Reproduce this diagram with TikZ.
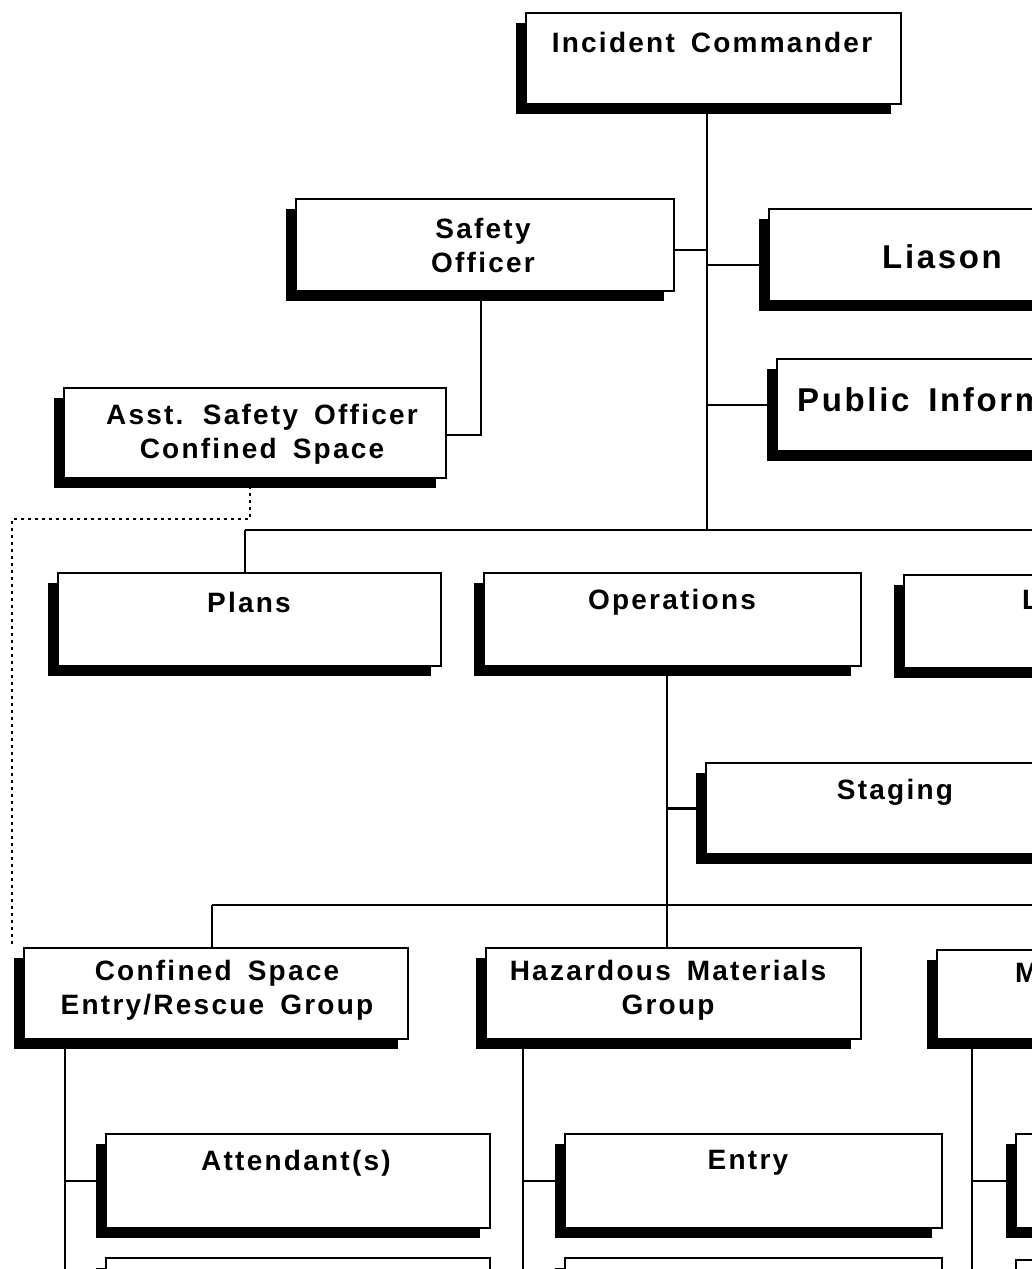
\documentclass[tikz,border=0pt]{standalone}
\usepackage{fontspec}
\setmainfont{Liberation Sans}[LetterSpace=8,WordSpace=1.6]
\usetikzlibrary{shadows,backgrounds}
\newcommand\orgbox[5]{\node[obox, minimum width={#4-#2}, minimum height={#5-#3}] (#1) at (#2,#3) {};}
\begin{document}
\begin{tikzpicture}[x=1pt,y=-1pt,
  obox/.style={draw=black, line width=2pt, fill=white, anchor=north west, inner sep=0pt,
    drop shadow={shadow xshift=-10pt, shadow yshift=-10pt, fill=black, opacity=1}},
  lbl/.style={font=\bfseries\fontsize{28}{34}\selectfont, align=center, inner sep=0pt},
  biglbl/.style={font=\bfseries\fontsize{33}{40}\selectfont, inner sep=0pt},
  conn/.style={line width=2.2pt},
  dotconn/.style={line width=2.6pt, dash pattern=on 3pt off 4pt}]
\useasboundingbox (0,0) rectangle (1032,1269);
\clip (0,0) rectangle (1032,1269);

% boxes
\orgbox{ic}{525}{12}{900}{103}
\orgbox{so}{295}{198}{673}{290}
\orgbox{li}{768}{208}{1070}{300}
\orgbox{pi}{776}{358}{1070}{450}
\orgbox{aso}{63}{387}{445}{477}
\orgbox{pl}{57}{572}{440}{665}
\orgbox{op}{483}{572}{860}{665}
\orgbox{lo}{903}{574}{1280}{667}
\orgbox{st}{705}{762}{1080}{853}
\orgbox{csg}{23}{947}{407}{1038}
\orgbox{hm}{485}{947}{860}{1038}
\orgbox{md}{936}{949}{1300}{1038}
\orgbox{at}{105}{1133}{489}{1227}
\orgbox{en}{564}{1133}{941}{1227}
\orgbox{b3}{1015}{1133}{1300}{1227}
\orgbox{c1}{105}{1257}{489}{1350}
\orgbox{c2}{564}{1257}{941}{1350}
\orgbox{c3}{1015}{1259}{1300}{1350}

% texts
\node[lbl] (tic) at (712,42) {Incident Commander};
\node[lbl] (tso) at (483,245) {Safety\\Officer};
\node[biglbl] (tli) at (942,257) {Liason};
\node[biglbl, anchor=west] (tpi) at (797,400) {Public Information};
\node[lbl] (taso) at (262,434) {Asst. Safety Officer\\Confined Space};
\node[lbl] (tpl) at (249,602) {Plans};
\node[lbl] (top) at (672,602) {Operations};
\node[lbl, anchor=west] (tlo) at (1022,602) {Logistics};
\node[lbl] (tst) at (895,792) {Staging};
\node[lbl] (tcsg) at (217,990) {Confined Space\\Entry/Rescue Group};
\node[lbl] (thm) at (668,990) {Hazardous Materials\\Group};
\node[lbl, anchor=west] (tmd) at (1015,972) {Medical};
\node[lbl] (tat) at (296,1163) {Attendant(s)};
\node[lbl] (ten) at (748,1163) {Entry};

% junctions
\coordinate (t1) at (707,530);
\coordinate (bus1w) at (245,530);
\coordinate (bus1e) at (1032,530);
\coordinate (t2) at (667,905);
\coordinate (bus2w) at (212,905);
\coordinate (bus2e) at (1032,905);
\coordinate (sov) at (481,435);
\coordinate (dA) at (250,519);
\coordinate (dB) at (12,519);
\coordinate (v1) at (65,1269);
\coordinate (v2) at (523,1269);
\coordinate (v3) at (972,1269);

\begin{pgfonlayer}{background}
\draw[conn] (ic.south -| t1) -- (t1);
\draw[conn] (bus1w) -- (bus1e);
\draw[conn] ([yshift=-5pt]so.east) -- ([yshift=-5pt]so.east -| t1);
\draw[conn] ([yshift=-10pt]li.west -| t1) -- ([yshift=-10pt]li.west);
\draw[conn] (t1 |- pi.west) -- (pi.west);
\draw[conn] (bus1w) -- (bus1w |- pl.north);
\draw[conn] (op.north -| t2) -- (op.north -| t2 |- bus1w);
\draw[conn] (op.south -| t2) -- (t2) -- (hm.north -| t2);
\draw[conn] (st.west -| t2) -- (st.west);
\draw[conn] (bus2w) -- (bus2e);
\draw[conn] (bus2w) -- (bus2w |- csg.north);
\draw[conn] (so.south -| sov) -- (sov) -- (aso.east |- sov);
\draw[dotconn] (aso.south -| dA) -- (dA) -- (dB) -- (dB |- csg.north);
\draw[conn] (csg.south -| v1) -- (v1);
\draw[conn] (hm.south -| v2) -- (v2);
\draw[conn] (md.south -| v3) -- (v3);
\draw[conn] (at.west -| v1) -- (at.west);
\draw[conn] (en.west -| v2) -- (en.west);
\draw[conn] (b3.west -| v3) -- (b3.west);
\end{pgfonlayer}
\end{tikzpicture}
\end{document}
